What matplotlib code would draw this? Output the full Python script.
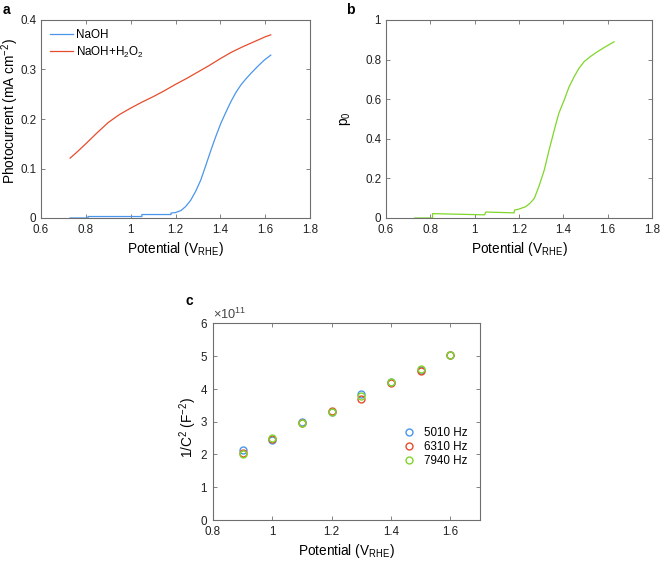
import numpy as np
import matplotlib

matplotlib.use("Agg")
import matplotlib.pyplot as plt
from matplotlib.ticker import FuncFormatter, ScalarFormatter

plt.rcParams["font.family"] = ["Liberation Sans", "DejaVu Sans"]
plt.rcParams["mathtext.fontset"] = "custom"
plt.rcParams["mathtext.rm"] = "Liberation Sans"
plt.rcParams["mathtext.it"] = "Liberation Sans:italic"

# panel a: photocurrent (mA cm^-2) vs potential (V_RHE)
pot_naoh = [0.73, 0.81, 0.81, 1.05, 1.05, 1.18, 1.18, 1.20, 1.224, 1.245, 1.268, 1.29,
            1.313, 1.335, 1.358, 1.38, 1.402, 1.425, 1.447, 1.47, 1.492, 1.514, 1.536,
            1.566, 1.596, 1.625]
j_naoh = [0.0, 0.0, 0.003, 0.003, 0.007, 0.007, 0.010, 0.011, 0.015, 0.023, 0.036, 0.054,
          0.077, 0.106, 0.137, 0.165, 0.191, 0.214, 0.235, 0.254, 0.269, 0.281, 0.292,
          0.306, 0.319, 0.329]
pot_h2o2 = [0.73, 0.76, 0.80, 0.85, 0.90, 0.95, 1.00, 1.05, 1.10, 1.15, 1.20, 1.25, 1.30,
            1.35, 1.40, 1.45, 1.50, 1.55, 1.60, 1.625]
j_h2o2 = [0.121, 0.133, 0.150, 0.172, 0.193, 0.209, 0.222, 0.234, 0.245, 0.257, 0.270,
          0.282, 0.295, 0.308, 0.322, 0.335, 0.346, 0.356, 0.366, 0.370]

# panel b: p0 (separation efficiency)
pot_p0 = [0.73, 0.81, 0.81, 1.045, 1.05, 1.178, 1.18, 1.20, 1.23, 1.25, 1.269, 1.29,
          1.314, 1.335, 1.359, 1.38, 1.404, 1.425, 1.449, 1.47, 1.494, 1.524, 1.554,
          1.59, 1.629]
p0 = [0.0, 0.0, 0.022, 0.016, 0.03, 0.026, 0.04, 0.045, 0.057, 0.075, 0.099, 0.16,
      0.242, 0.34, 0.444, 0.53, 0.596, 0.66, 0.714, 0.755, 0.79, 0.817, 0.84, 0.865, 0.89]

# panel c: Mott-Schottky
ms_pot = [0.9, 1.0, 1.1, 1.2, 1.3, 1.4, 1.5, 1.6]
ms_5010 = [2.13, 2.45, 2.97, 3.30, 3.83, 4.20, 4.58, 5.02]
ms_6310 = [2.05, 2.47, 2.96, 3.32, 3.68, 4.18, 4.55, 5.02]
ms_7940 = [2.02, 2.50, 2.95, 3.30, 3.77, 4.21, 4.60, 5.02]
ms_labels = ["5010 Hz", "6310 Hz", "7940 Hz"]

c_blue = "#4a96ec"
c_red = "#e84c2c"
c_green = "#7fd62a"
axis_gray = "#6e6e6e"
fs = 8.4   # tick labels
fl = 9.8   # axis labels


def style_axes(ax):
    for sp in ax.spines.values():
        sp.set_color(axis_gray)
        sp.set_linewidth(0.8)
    ax.tick_params(direction="in", length=3, width=0.6, color=axis_gray,
                   labelsize=fs, top=True, right=True, labelcolor="#222222")
    ax.tick_params(axis="x", pad=4)
    ax.xaxis.set_major_formatter(FuncFormatter(lambda v, p: f"{v:g}"))


fig = plt.figure(figsize=(6.62, 5.62), dpi=100)
W, H = 662, 562


def add_ax(left, top, right, bottom):
    return fig.add_axes([left / W, 1 - bottom / H, (right - left) / W, (bottom - top) / H])


xlab = "Potential (V$_{\\mathregular{RHE}}$)"

# a
ax_a = add_ax(41, 20, 310, 218)
ax_a.plot(pot_naoh, j_naoh, color=c_blue, lw=0.9, label="NaOH")
ax_a.plot(pot_h2o2, j_h2o2, color=c_red, lw=0.9, label="NaOH+H$_2$O$_2$")
ax_a.set_xlim(0.6, 1.8)
ax_a.set_ylim(0, 0.4)
ax_a.set_xticks(np.arange(0.6, 1.81, 0.2))
ax_a.set_yticks(np.arange(0, 0.41, 0.1))
style_axes(ax_a)
ax_a.yaxis.set_major_formatter(FuncFormatter(lambda v, p: f"{v:g}"))
ax_a.set_xlabel(xlab, fontsize=fl, labelpad=3)
ax_a.set_ylabel("Photocurrent (mA cm$^{-2}$)", fontsize=fl)
ax_a.yaxis.set_label_coords(-20 / 269, 0.54)
ax_a.legend(loc="upper left", bbox_to_anchor=(9 / 269, 0.955), frameon=False, fontsize=fs,
            handlelength=2.0, handletextpad=0.25, borderpad=0, borderaxespad=0,
            labelspacing=0.3)
fig.text(3 / W, 1 - 10 / H, "a", fontsize=10, fontweight="bold", va="center")

# b
ax_b = add_ax(386, 20, 652, 218)
ax_b.plot(pot_p0, p0, color=c_green, lw=0.9)
ax_b.set_xlim(0.6, 1.8)
ax_b.set_ylim(0, 1)
ax_b.set_xticks(np.arange(0.6, 1.81, 0.2))
ax_b.set_yticks(np.arange(0, 1.01, 0.2))
style_axes(ax_b)
ax_b.yaxis.set_major_formatter(FuncFormatter(lambda v, p: f"{v:g}"))
ax_b.set_xlabel(xlab, fontsize=fl, labelpad=3)
ax_b.set_ylabel("p$_0$", fontsize=fl)
ax_b.yaxis.set_label_coords(-33 / 266, 0.5)
fig.text(346 / W, 1 - 10 / H, "b", fontsize=10, fontweight="bold", va="center")

# c
ax_c = add_ax(213, 323, 480, 520)
scale = 1e11
for vals, col, lab in zip([ms_5010, ms_6310, ms_7940], [c_blue, c_red, c_green], ms_labels):
    ax_c.plot(ms_pot, np.array(vals) * scale, "o", mfc="none", mec=col, ms=5, mew=1.0,
              label=lab)
ax_c.set_xlim(0.8, 1.7)
ax_c.set_ylim(0, 6e11)
ax_c.set_xticks(np.arange(0.8, 1.61, 0.2))
ax_c.set_yticks(np.arange(0, 6.1, 1) * scale)
style_axes(ax_c)
sf = ScalarFormatter(useMathText=True)
sf.set_powerlimits((0, 0))
ax_c.yaxis.set_major_formatter(sf)
ax_c.yaxis.get_offset_text().set_fontsize(9.2)
ax_c.yaxis.get_offset_text().set_color("#444444")
ax_c.set_xlabel(xlab, fontsize=fl, labelpad=3)
ax_c.set_ylabel("1/C$^2$ (F$^{-2}$)", fontsize=fl)
ax_c.yaxis.set_label_coords(-14 / 267, 0.47)
ax_c.legend(loc="center right", bbox_to_anchor=(255 / 267, 0.37), frameon=False,
            fontsize=fs, handletextpad=0.3, borderpad=0, borderaxespad=0,
            labelspacing=0.15)
fig.text(186 / W, 1 - 301 / H, "c", fontsize=10, fontweight="bold", va="center")

fig.savefig("out.png", dpi=100)
